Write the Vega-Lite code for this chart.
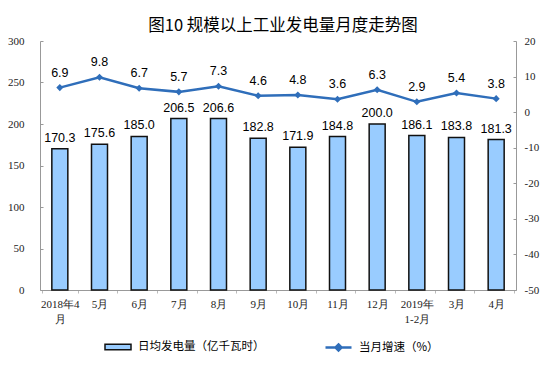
{
  "$schema": "https://vega.github.io/schema/vega-lite/v6.json",
  "width": 476,
  "height": 249,
  "autosize": "none",
  "padding": {"left": 40, "top": 41, "right": 38, "bottom": 91},
  "background": "white",
  "title": {"text": "图10 规模以上工业发电量月度走势图", "font": "Noto Sans CJK SC", "fontSize": 16.5, "fontWeight": "normal", "color": "#000", "offset": 1, "anchor": "middle", "dx": 5},
  "config": {"view": {"stroke": null}, "axis": {"grid": false}},
  "data": {"values": [
    {"m": "2018年4月", "v": 170.3, "g": 6.9},
    {"m": "5月", "v": 175.6, "g": 9.8},
    {"m": "6月", "v": 185.0, "g": 6.7},
    {"m": "7月", "v": 206.5, "g": 5.7},
    {"m": "8月", "v": 206.6, "g": 7.3},
    {"m": "9月", "v": 182.8, "g": 4.6},
    {"m": "10月", "v": 171.9, "g": 4.8},
    {"m": "11月", "v": 184.8, "g": 3.6},
    {"m": "12月", "v": 200.0, "g": 6.3},
    {"m": "2019年1-2月", "v": 186.1, "g": 2.9},
    {"m": "3月", "v": 183.8, "g": 5.4},
    {"m": "4月", "v": 181.3, "g": 3.8}
  ]},
  "encoding": {
    "x": {"field": "m", "type": "nominal", "sort": null, "title": null,
      "axis": {"labelAngle": 0, "labelFont": "Liberation Serif", "labelFontSize": 11, "labelColor": "#222", "domainColor": "#999", "ticks": true, "tickBand": "extent", "tickSize": 3, "tickColor": "#bbb", "labelPadding": 5,
        "labelExpr": "datum.value == '2018年4月' ? ['2018年4', '月'] : datum.value == '2019年1-2月' ? ['2019年', '1-2月'] : datum.value", "labelLineHeight": 15}}
  },
  "layer": [
    {
      "encoding": {
        "y": {"field": "v", "type": "quantitative", "scale": {"domain": [0, 300]}, "title": null,
          "axis": {"values": [0, 50, 100, 150, 200, 250, 300], "labelOverlap": false, "labelFont": "Liberation Serif", "labelFontSize": 11, "labelColor": "#222", "domainColor": "#999", "tickColor": "#999", "tickSize": -3, "labelPadding": 19}}
      },
      "layer": [
        {"mark": {"type": "bar", "size": 16, "stroke": "#111", "strokeWidth": 1.5},
         "encoding": {
           "fill": {"datum": "日均发电量（亿千瓦时）", "type": "nominal", "scale": {"range": ["#99CCFF"]},
             "legend": {"title": null, "orient": "none", "legendX": 72, "legendY": 300, "direction": "horizontal", "labelFont": "Noto Sans CJK SC", "labelFontSize": 11.5, "labelColor": "#000", "labelOffset": 14, "symbolType": "M-2.6,-0.55H2.6V0.55H-2.6Z", "symbolSize": 100, "symbolStrokeColor": "#111", "symbolStrokeWidth": 1.5, "symbolOpacity": 1}}
         }},
        {"mark": {"type": "text", "baseline": "bottom", "dy": -4, "font": "Liberation Sans", "fontSize": 12.5, "color": "#000"},
         "encoding": {
           "text": {"field": "v", "type": "quantitative", "format": ".1f"}
         }}
      ]
    },
    {
      "encoding": {
        "y": {"field": "g", "type": "quantitative", "scale": {"domain": [-50, 20]}, "title": null,
          "axis": {"orient": "right", "values": [-50, -40, -30, -20, -10, 0, 10, 20], "tickCount": 8, "labelOverlap": false, "labelExpr": "'' + datum.value", "labelFont": "Liberation Serif", "labelFontSize": 11, "labelColor": "#222", "domainColor": "#999", "tickColor": "#999", "tickSize": -3, "labelPadding": 11}}
      },
      "layer": [
        {"mark": {"type": "line", "strokeWidth": 2.5, "color": "#2F6EBA"},
         "encoding": {
           "stroke": {"datum": "当月增速（%）", "type": "nominal", "scale": {"range": ["#2F6EBA"]},
             "legend": {"title": null, "orient": "none", "legendX": 292, "legendY": 300, "direction": "horizontal", "labelFont": "Noto Sans CJK SC", "labelFontSize": 11.5, "labelColor": "#000", "labelOffset": 14, "symbolType": "M-2.6,0H2.6M0,-0.6L0.6,0L0,0.6L-0.6,0Z", "symbolSize": 100, "symbolStrokeWidth": 2.5, "symbolFillColor": "#2F6EBA"}}
         }},
        {"mark": {"type": "point", "shape": "diamond", "filled": true, "size": 50, "color": "#2F6EBA", "opacity": 1}},
        {"mark": {"type": "text", "baseline": "bottom", "dy": -8, "font": "Liberation Sans", "fontSize": 12.5, "color": "#000"},
         "encoding": {
           "text": {"field": "g", "type": "quantitative", "format": ".1f"}
         }}
      ]
    }
  ],
  "resolve": {"scale": {"y": "independent"}}
}
